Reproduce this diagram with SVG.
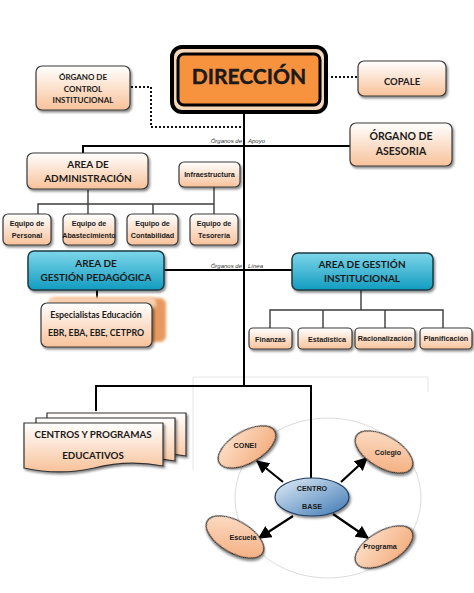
<svg xmlns="http://www.w3.org/2000/svg" width="474" height="593" viewBox="0 0 474 593">
<style>
.bx{fill:url(#peach);stroke:#3a3a3a;stroke-width:1.2;filter:url(#sh)}
.tl{fill:url(#teal);stroke:#1d3a44;stroke-width:1.5;filter:url(#sh)}
.t{font-family:Lato,"Liberation Sans",sans-serif;font-weight:bold;fill:#1a1a1a;text-anchor:middle}
.s{font-family:"Liberation Sans",Arial,sans-serif;font-weight:bold;fill:#1a1a1a;text-anchor:middle;font-size:7.2px}
.it{font-family:"Liberation Sans",Arial,sans-serif;font-style:italic;fill:#333;font-size:6px}
.ln{stroke:#000;stroke-width:2;fill:none}
.sl{stroke:#3c3c3c;stroke-width:1.4;fill:none}
.dt{stroke:#111;stroke-width:2;stroke-dasharray:2 2;fill:none}
.el{fill:url(#peachE);stroke:#2a2a2a;stroke-width:1.2;filter:url(#sh)}
</style>
<defs>
<linearGradient id="peach" x1="0" y1="0" x2="0" y2="1"><stop offset="0" stop-color="#ffffff"/><stop offset="1" stop-color="#f8c29a"/></linearGradient>
<linearGradient id="peachE" x1="0" y1="0" x2="1" y2="1"><stop offset="0" stop-color="#fde3cf"/><stop offset="1" stop-color="#f3a876"/></linearGradient>
<linearGradient id="teal" x1="0" y1="0" x2="0" y2="1"><stop offset="0" stop-color="#7ed6ea"/><stop offset="1" stop-color="#129cc0"/></linearGradient>
<linearGradient id="blue" x1="0" y1="0" x2="1" y2="1"><stop offset="0" stop-color="#e3eef8"/><stop offset="1" stop-color="#3d78b3"/></linearGradient>
<filter id="sh" x="-20%" y="-20%" width="150%" height="160%"><feDropShadow dx="1.5" dy="2" stdDeviation="1.2" flood-color="#000" flood-opacity="0.45"/></filter>
<filter id="bl" x="-10%" y="-10%" width="120%" height="120%"><feGaussianBlur stdDeviation="1.5"/></filter>
<marker id="ar" viewBox="0 0 10 10" refX="9" refY="5" markerWidth="6" markerHeight="6" orient="auto"><path d="M0,0 L10,5 L0,10 z" fill="#000"/></marker>
</defs>

<!-- faint frame -->
<g stroke="#e6e6e6" stroke-width="1" fill="none">
<path d="M193,470 V377 H428 V392"/>
<ellipse cx="328" cy="498" rx="93" ry="80" stroke="#dcdcdc"/>
</g>

<g id="connectors">
<path class="ln" d="M244,112 V386"/>
<path class="ln" d="M83,153 V146 H350"/>
<path class="ln" d="M164,270 H292"/>
<path class="ln" d="M96,411 V386 H311 V479"/>
<path class="dt" d="M131,87 H151 V127 H244"/>
<path class="dt" d="M331,77 H358"/>
<path class="sl" d="M88,190 V204 M38,214 V204 H214 V187 M88,204 V214 M153,204 V214 M214,204 V214"/>
<path class="ln" d="M97,290 V303"/>
<path class="sl" d="M361,290 V310 M270,328 V310 H443 V328 M323,310 V328 M385,310 V328"/>
<g stroke="#000" stroke-width="2.2" marker-end="url(#ar)">
<line x1="283" y1="482" x2="257" y2="461"/>
<line x1="341" y1="482" x2="367" y2="458"/>
<line x1="293" y1="516" x2="259" y2="538"/>
<line x1="333" y1="514" x2="368" y2="538"/>
</g>
<text class="it" x="242" y="143" text-anchor="end">Órganos de</text>
<text class="it" x="248" y="143">Apoyo</text>
<text class="it" x="242" y="268" text-anchor="end">Órganos de</text>
<text class="it" x="248" y="268">Línea</text>
</g>

<g id="direccion">
<rect x="172" y="47" width="154" height="65" rx="10" fill="#f4d7b8" stroke="#000" stroke-width="4"/>
<rect x="178" y="54" width="142" height="51" rx="6" fill="#f7923f" stroke="#000" stroke-width="3"/>
<text class="t" x="249" y="84" font-size="21" font-family="'Liberation Sans',sans-serif" stroke="#1a1a1a" stroke-width="0.4">DIRECCIÓN</text>
</g>

<g id="control">
<rect class="bx" x="36" y="66" width="94" height="44" rx="6"/>
<text class="t" x="83" y="80" font-size="8">ÓRGANO DE</text>
<text class="t" x="83" y="92" font-size="8">CONTROL</text>
<text class="t" x="83" y="103" font-size="8">INSTITUCIONAL</text>
</g>

<g id="copale">
<rect class="bx" x="358" y="61" width="88" height="35" rx="6"/>
<text class="t" x="402" y="85" font-size="9.5">COPALE</text>
</g>

<g id="asesoria">
<rect class="bx" x="350" y="123" width="102" height="43" rx="6"/>
<text class="t" x="401" y="140" font-size="10.5">ÓRGANO DE</text>
<text class="t" x="401" y="155" font-size="10.5">ASESORIA</text>
</g>

<g id="administracion">
<rect class="bx" x="27" y="153" width="121" height="36" rx="6"/>
<text class="t" x="88" y="168" font-size="10">AREA DE</text>
<text class="t" x="88" y="182" font-size="10">ADMINISTRACIÓN</text>
</g>

<g id="infraestructura">
<rect class="bx" x="179" y="162" width="61" height="25" rx="5"/>
<text class="s" x="209.5" y="177" font-size="7.5">Infraestructura</text>
</g>

<g id="personal"><rect class="bx" x="3" y="214" width="48" height="31" rx="5"/><text class="s" x="27" y="226">Equipo de</text><text class="s" x="27" y="238">Personal</text></g>
<g id="abastecimiento"><rect class="bx" x="63" y="214" width="52" height="31" rx="5"/><text class="s" x="89" y="226">Equipo de</text><text class="s" x="89" y="238" font-size="6.8">Abastecimiento</text></g>
<g id="contabilidad"><rect class="bx" x="127" y="214" width="51" height="31" rx="5"/><text class="s" x="152.5" y="226">Equipo de</text><text class="s" x="152.5" y="238">Contabilidad</text></g>
<g id="tesoreria"><rect class="bx" x="190" y="214" width="48" height="31" rx="5"/><text class="s" x="214" y="226">Equipo de</text><text class="s" x="214" y="238">Tesorería</text></g>

<g id="pedagogica">
<rect class="tl" x="28" y="251" width="136" height="39" rx="6"/>
<text class="t" x="96" y="267" font-size="10">AREA DE</text>
<text class="t" x="96" y="281" font-size="10">GESTIÓN PEDAGÓGICA</text>
</g>

<g id="especialistas">
<rect x="51" y="298" width="115" height="44" rx="6" fill="#e7995e" filter="url(#bl)"/>
<rect x="48" y="297" width="108" height="12" rx="5" fill="#f8cfae" filter="url(#bl)"/>
<rect class="bx" x="41" y="303" width="111" height="44" rx="6" fill="url(#peach)"/>
<text class="t" x="96" y="318" font-size="8.8">Especialistas Educación</text>
<text class="t" x="96" y="336" font-size="8.8">EBR, EBA, EBE, CETPRO</text>
</g>

<g id="institucional">
<rect class="tl" x="292" y="253" width="141" height="37" rx="6"/>
<text class="t" x="362" y="268" font-size="10">AREA DE GESTIÓN</text>
<text class="t" x="362" y="282" font-size="10">INSTITUCIONAL</text>
</g>

<g id="finanzas"><rect class="bx" x="249" y="328" width="43" height="21" rx="4"/><text class="s" x="270.5" y="342" font-size="7.6">Finanzas</text></g>
<g id="estadistica"><rect class="bx" x="298" y="328" width="54" height="21" rx="4"/><text class="s" x="327" y="342" font-size="7.6">Estadística</text></g>
<g id="racionalizacion"><rect class="bx" x="355" y="328" width="60" height="21" rx="4"/><text class="s" x="385" y="341" font-size="7.6">Racionalización</text></g>
<g id="planificacion"><rect class="bx" x="420" y="328" width="52" height="21" rx="4"/><text class="s" x="446" y="341" font-size="7.6">Planificación</text></g>

<g id="centros">
<path d="M47,413 H186 V456 C165,452 140,452 117,458 C95,463 70,463 47,458 Z" fill="url(#peach)" stroke="#333" stroke-width="1.2" filter="url(#sh)"/>
<path d="M36,418 H175 V461 C154,457 129,457 106,463 C84,468 59,468 36,463 Z" fill="url(#peach)" stroke="#333" stroke-width="1.2" filter="url(#sh)"/>
<path d="M24,423 H163 V466 C142,462 117,462 94,468 C72,473 47,473 24,468 Z" fill="url(#peach)" stroke="#333" stroke-width="1.2" filter="url(#sh)"/>
<text class="t" x="93" y="438" font-size="9.8">CENTROS Y PROGRAMAS</text>
<text class="t" x="93" y="459" font-size="9.8">EDUCATIVOS</text>
</g>

<g id="centro_base">
<ellipse cx="312" cy="497" rx="37" ry="19" fill="url(#blue)" stroke="#1f3a5a" stroke-width="1.2" filter="url(#sh)"/>
<text class="s" x="312" y="491" font-size="7.4">CENTRO</text>
<text class="s" x="312" y="509" font-size="7.4">BASE</text>
</g>
<g id="conei">
<ellipse class="el" cx="247" cy="447" rx="32" ry="16" transform="rotate(-30 247 447)"/>
<text class="s" x="245" y="448" font-size="7.4">CONEI</text>
</g>
<g id="colegio">
<ellipse class="el" cx="384" cy="452" rx="32" ry="16" transform="rotate(30 384 452)"/>
<text class="s" x="388" y="455" font-size="7.4">Colegio</text>
</g>
<g id="escuela">
<ellipse class="el" cx="235" cy="537" rx="32" ry="16" transform="rotate(30 235 537)"/>
<text class="s" x="243" y="540" font-size="7.4">Escuela</text>
</g>
<g id="programa">
<ellipse class="el" cx="384" cy="547" rx="32" ry="16" transform="rotate(-30 384 547)"/>
<text class="s" x="380" y="549" font-size="7.4">Programa</text>
</g>
</svg>
